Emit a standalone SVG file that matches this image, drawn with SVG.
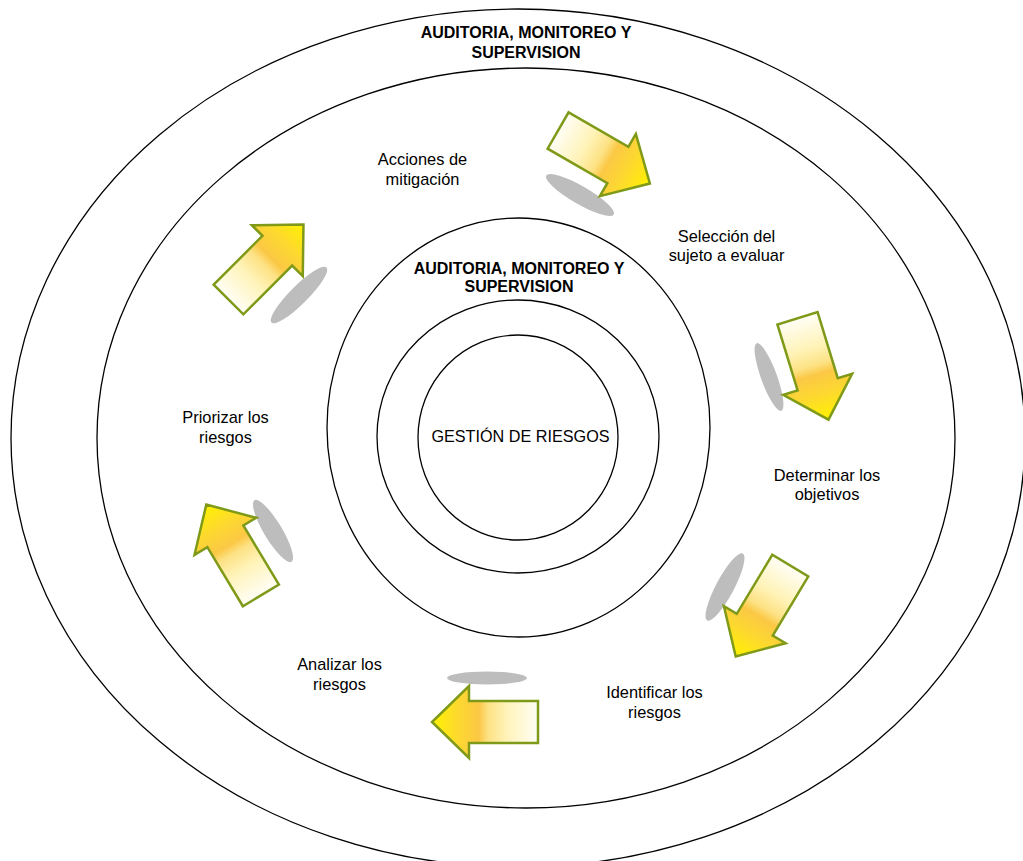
<svg xmlns="http://www.w3.org/2000/svg" xmlns:xlink="http://www.w3.org/1999/xlink" width="1023" height="861" viewBox="0 0 1023 861">
<style>
.ring{fill:none;stroke:#000;stroke-width:1.3}
.lbl{font-family:"Liberation Sans",Arial,sans-serif;font-size:16.4px;text-anchor:middle;fill:#000}
.ttl{font-weight:bold;font-size:16px}
.shadow{fill:#bdbdbd}
.arr{fill:url(#g);stroke:#7f9a18;stroke-width:2.5;stroke-linejoin:miter}
</style>
<defs>
<linearGradient id="g" x1="0" y1="0" x2="1" y2="0">
<stop offset="0" stop-color="#fffef6"/>
<stop offset="0.3" stop-color="#fff3b8"/>
<stop offset="0.47" stop-color="#fde284"/>
<stop offset="0.56" stop-color="#fbc845"/>
<stop offset="0.75" stop-color="#fdd830"/>
<stop offset="1" stop-color="#fff200"/>
</linearGradient>
<polygon id="arrow" points="-53,-21 16,-21 16,-36 53,0 16,36 16,21 -53,21"/>
</defs>
<rect width="1023" height="861" fill="#fff"/>
<g id="ring-outer">
<ellipse class="ring" cx="518" cy="438" rx="507" ry="429"/>
<text class="lbl ttl" x="526" y="38">AUDITORIA, MONITOREO Y</text>
<text class="lbl ttl" x="526" y="58">SUPERVISION</text>
</g>
<g id="ring-process">
<ellipse class="ring" cx="526" cy="438" rx="429" ry="370"/>
</g>
<g id="ring-inner">
<ellipse class="ring" cx="518.5" cy="427.5" rx="191.5" ry="209.5"/>
<text class="lbl ttl" x="519" y="274">AUDITORIA, MONITOREO Y</text>
<text class="lbl ttl" x="519" y="292">SUPERVISION</text>
</g>
<g id="ring-4">
<ellipse class="ring" cx="518" cy="436.5" rx="141" ry="136.5"/>
</g>
<g id="core">
<ellipse class="ring" cx="518" cy="437.5" rx="100" ry="102.5"/>
<text class="lbl" x="520.5" y="442" style="font-size:16.2px">GESTIÓN DE RIESGOS</text>
</g>
<g id="step-seleccion"><text class="lbl" x="726.5" y="242">Selección del</text><text class="lbl" x="726.5" y="261">sujeto a evaluar</text></g>
<g id="step-objetivos"><text class="lbl" x="827" y="481">Determinar los</text><text class="lbl" x="827" y="500">objetivos</text></g>
<g id="step-identificar"><text class="lbl" x="654.5" y="698">Identificar los</text><text class="lbl" x="654.5" y="718">riesgos</text></g>
<g id="step-analizar"><text class="lbl" x="339.5" y="670">Analizar los</text><text class="lbl" x="339.5" y="690">riesgos</text></g>
<g id="step-priorizar"><text class="lbl" x="225.5" y="423">Priorizar los</text><text class="lbl" x="225.5" y="443">riesgos</text></g>
<g id="step-mitigacion"><text class="lbl" x="422.5" y="165">Acciones de</text><text class="lbl" x="422.5" y="185">mitigación</text></g>
<g id="connectors">
<ellipse class="shadow" cx="580" cy="195" rx="39" ry="9" transform="rotate(30 580 195)"/>
<ellipse class="shadow" cx="299" cy="295" rx="39" ry="9" transform="rotate(-45 299 295)"/>
<ellipse class="shadow" cx="769" cy="377" rx="36" ry="8" transform="rotate(70 769 377)"/>
<ellipse class="shadow" cx="725" cy="587" rx="38" ry="9" transform="rotate(118 725 587)"/>
<ellipse class="shadow" cx="487" cy="678" rx="40" ry="6.5"/>
<ellipse class="shadow" cx="273" cy="531" rx="36" ry="9" transform="rotate(59 273 531)"/>
<use xlink:href="#arrow" href="#arrow" class="arr" transform="translate(604 157) rotate(30)"/>
<use xlink:href="#arrow" href="#arrow" class="arr" transform="translate(813 369) rotate(73)"/>
<use xlink:href="#arrow" href="#arrow" class="arr" transform="translate(763 611) rotate(121)"/>
<use xlink:href="#arrow" href="#arrow" class="arr" transform="translate(485 722) rotate(180)"/>
<use xlink:href="#arrow" href="#arrow" class="arr" transform="translate(233.6 550) rotate(-121)"/>
<use xlink:href="#arrow" href="#arrow" class="arr" transform="translate(266 262) rotate(-45)"/>
</g>
</svg>
